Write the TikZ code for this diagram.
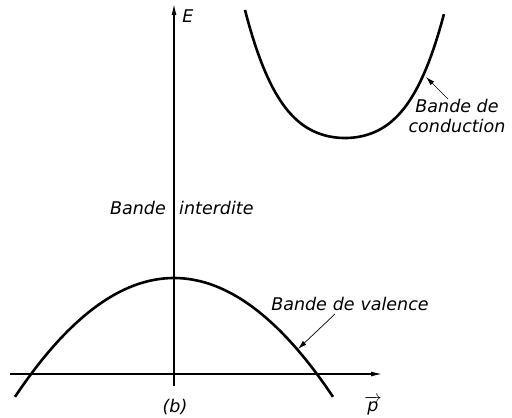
\documentclass[tikz,border=0pt]{standalone}
\usepackage{fontspec}
\setmainfont{DejaVu Sans}
\usetikzlibrary{arrows.meta}
\begin{document}
\begin{tikzpicture}[x=1pt,y=-1pt,
  band/.style={line width=2.6pt},
  axis/.style={line width=1.2pt,-{Latex[length=11pt,width=5pt]}},
  leader/.style={line width=0.7pt,-{Latex[length=9pt,width=5pt]}},
  lbl/.style={font=\fontsize{17.5}{20}\selectfont\itshape,inner sep=0pt}]
\useasboundingbox (0,0) rectangle (512,418);

\coordinate (Ebot) at (174,386);
\coordinate (Etop) at (174,4);
\coordinate (Pleft) at (10,374);
\coordinate (Pright) at (382,374);

\draw[axis] (Ebot) -- (Etop);
\draw[axis] (Pleft) -- (Pright);

% valence band
\draw[band,domain=-1.59:1.59,samples=80] plot ({174+100*\x},{278+47*\x*\x});
% conduction band
\draw[band,domain=-1:0.99,samples=80] plot ({345+100*\x},{138-62*\x*\x-66*\x*\x*\x*\x});

\coordinate (cTip) at (426,77);
\coordinate (cTail) at (448,99);
\coordinate (vTip) at (298,349);
\coordinate (vTail) at (335,314);

\draw[leader] (cTail) -- (cTip);
\draw[leader] (vTail) -- (vTip);

\node[lbl] (E) at (188,16) {E};
\node[lbl] (p) at (373,406) {$\overrightarrow{\mbox{p}}$};
\node[lbl] (b) at (175,407) {(b)};
\node[lbl,align=center] (cond) at (457,116) {Bande de\\conduction};
\node[lbl] (val) at (350,304) {Bande\,\,de\,\,valence};
\node[lbl,anchor=east] (gapL) at (166,208) {Bande};
\node[lbl,anchor=west] (gapR) at (179,208) {interdite};
\end{tikzpicture}
\end{document}
